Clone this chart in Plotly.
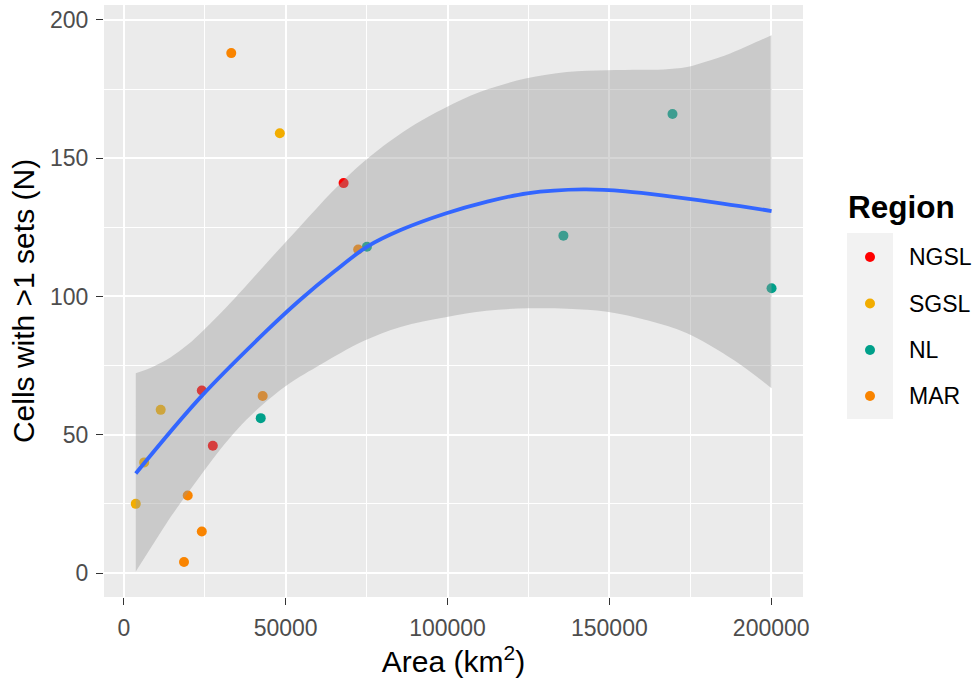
import plotly.graph_objects as go

# ---- observations: area (km^2) vs. cells with more than one set ----
regions = ["NGSL", "SGSL", "NL", "MAR"]
region_colors = ["#FF0000", "#F2AD00", "#00A08A", "#F98400"]

ngsl_area = [24100, 27500, 67900]
ngsl_cells = [66, 46, 141]

sgsl_area = [3700, 6300, 11400, 48200]
sgsl_cells = [25, 40, 59, 159]

nl_area = [42300, 75100, 135800, 169500, 200100]
nl_cells = [56, 118, 122, 166, 103]

mar_area = [18600, 19750, 24100, 33200, 42900, 72400]
mar_cells = [4, 28, 15, 188, 64, 117]

# ---- loess smooth and its confidence band ----
smooth_area = [3700, 23800, 44400, 54600, 65000, 75200, 85500, 99400, 112000,
               124600, 142000, 155000, 169800, 185000, 200100]
smooth_fit = [36.0, 63.7, 87.9, 98.9, 109, 118, 124, 130, 134.2,
              137.3, 138.7, 138, 136, 133.6, 130.9]

band_lo_area = [3700, 9400, 14500, 19700, 24800, 29900, 35100, 42300, 50500, 60800,
                67000, 74200, 85500, 99400, 112000, 124600, 137000, 149300, 162000,
                174000, 188400, 200100]
band_lo = [0.5, 11, 20.3, 28.8, 37, 44.8, 52, 60.3, 68, 75.4,
           79.6, 84, 89, 92.5, 94.8, 95.7, 95.6, 94.5, 91.3,
           86.7, 77, 66.8]

band_hi_area = [3700, 9400, 14500, 19700, 24800, 34000, 44400, 54600, 64900, 74200,
                82400, 90000, 98900, 110200, 124100, 136900, 149300, 160000, 166800,
                174000, 180000, 187300, 193500, 200100]
band_hi = [72.2, 74.8, 78, 82.5, 88, 99, 112.5, 125.5, 138.5, 148.8,
           156.3, 162.3, 168, 174, 178.8, 181.2, 181.8, 182, 182.1,
           183, 185, 187.9, 191, 194.5]

x_ticks = [0, 50000, 100000, 150000, 200000]
y_ticks = [0, 50, 100, 150, 200]

FONT = "Liberation Sans, Arial, sans-serif"

fig = go.Figure()

series = [(ngsl_area, ngsl_cells), (sgsl_area, sgsl_cells), (nl_area, nl_cells), (mar_area, mar_cells)]
for name, col, (xs, ys) in zip(regions, region_colors, series):
    fig.add_trace(go.Scatter(
        x=xs, y=ys, mode="markers", name=name,
        marker=dict(color=col, size=10, line=dict(width=0)),
        showlegend=False, hoverinfo="x+y+name",
    ))

# confidence ribbon drawn over the points, like ggplot's geom_smooth
fig.add_trace(go.Scatter(
    x=band_lo_area, y=band_lo, mode="lines",
    line=dict(width=0, shape="spline", smoothing=1.0),
    showlegend=False, hoverinfo="skip",
))
fig.add_trace(go.Scatter(
    x=band_hi_area, y=band_hi, mode="lines", fill="tonexty",
    fillcolor="rgba(153,153,153,0.4)",
    line=dict(width=0, shape="spline", smoothing=1.0),
    showlegend=False, hoverinfo="skip",
))
fig.add_trace(go.Scatter(
    x=smooth_area, y=smooth_fit, mode="lines",
    line=dict(color="#3366FF", width=3.8, shape="spline", smoothing=1.0),
    showlegend=False, hoverinfo="skip",
))

axis_common = dict(
    showgrid=True, gridcolor="white", gridwidth=1.6,
    zeroline=False, showline=False,
    ticks="outside", ticklen=7, tickwidth=1.3, tickcolor="#333333",
    ticklabelstandoff=3,
    tickfont=dict(family=FONT, size=23, color="#4D4D4D"),
)

fig.update_xaxes(
    range=[-6115, 209815], tickmode="array", tickvals=x_ticks,
    ticktext=[str(v) for v in x_ticks],
    minor=dict(tickmode="array", tickvals=[25000, 75000, 125000, 175000],
               showgrid=True, gridcolor="white", gridwidth=0.8, ticks=""),
    title=dict(text="Area (km<sup>2</sup>)", font=dict(family=FONT, size=30, color="black"),
               standoff=10),
    **axis_common,
)
fig.update_yaxes(
    range=[-8.68, 205.4], tickmode="array", tickvals=y_ticks,
    ticktext=[str(v) for v in y_ticks],
    minor=dict(tickmode="array", tickvals=[25, 75, 125, 175],
               showgrid=True, gridcolor="white", gridwidth=0.8, ticks=""),
    title=dict(text="Cells with >1 sets (N)", font=dict(family=FONT, size=30, color="black"),
               standoff=6),
    **axis_common,
)

# ---- legend: grey key panel, dots and labels ----
L, R, T, B = 104, 803, 5, 597
W, H = R - L, B - T


def px_x(p):
    return (p - L) / W


def px_y(p):
    return (B - p) / H


shapes = [dict(type="rect", xref="paper", yref="paper",
               x0=px_x(847), x1=px_x(893), y0=px_y(419), y1=px_y(233),
               fillcolor="#F2F2F2", line=dict(width=0), layer="below")]
annotations = [dict(text="<b>Region</b>", xref="paper", yref="paper",
                    x=px_x(846), y=px_y(207), xanchor="left", yanchor="middle",
                    showarrow=False, font=dict(family=FONT, size=31.5, color="black"))]
key_rows = [257, 303.5, 350, 396]
for name, col, yy in zip(regions, region_colors, key_rows):
    shapes.append(dict(type="circle", xref="paper", yref="paper",
                       xsizemode="pixel", ysizemode="pixel",
                       xanchor=px_x(870), yanchor=px_y(yy),
                       x0=-5, x1=5, y0=-5, y1=5,
                       fillcolor=col, line=dict(width=0)))
    annotations.append(dict(text=name, xref="paper", yref="paper",
                            x=px_x(907), y=px_y(yy), xanchor="left", yanchor="middle",
                            showarrow=False, font=dict(family=FONT, size=23, color="black")))

fig.update_layout(
    width=976, height=683,
    margin=dict(l=L, r=976 - R, t=T, b=683 - B, autoexpand=False),
    paper_bgcolor="white", plot_bgcolor="#EBEBEB",
    font=dict(family=FONT),
    shapes=shapes, annotations=annotations,
    showlegend=False,
)

fig.write_html("out.html")
